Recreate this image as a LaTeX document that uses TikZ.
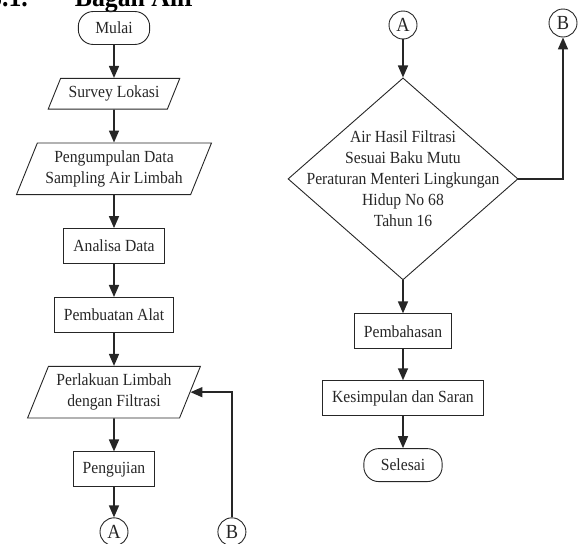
\documentclass[tikz,border=0pt]{standalone}
\usepackage{fontspec}
\setmainfont{Liberation Serif}[FakeStretch=0.92]
\usetikzlibrary{arrows.meta,positioning,shapes.geometric}
\tikzset{%
  >={Triangle[width=10pt,length=12pt]},
  % Specifications for style of nodes:
       base/.style = {draw=black!85, text=black!85, line width=0.9pt,
                      font=\fontsize{17}{21}\selectfont, align=center},
     proses/.style = {base, rectangle, minimum height=35pt, inner xsep=9.5pt},
     dataio/.style = {base, trapezium, trapezium left angle=68,
                      trapezium right angle=112, inner xsep=8pt,
                      inner ysep=7.6pt},
   terminal/.style = {base, rectangle, rounded corners=15pt,
                      minimum height=33pt, inner xsep=17pt},
   decision/.style = {base, diamond, minimum width=230pt,
                      minimum height=202pt, inner sep=0pt},
  connector/.style = {base, circle, minimum size=28pt, inner sep=0pt,
                      font=\fontsize{20}{22}\selectfont},
       flow/.style = {->, draw=black!85, line width=1.6pt}
}

\begin{document}
\begin{tikzpicture}[x=1pt, y=-1pt, node distance=33pt]
  \useasboundingbox (0,0) rectangle (579,544);

  \node (heading) [anchor=base west, inner sep=0pt,
                   font=\fontsize{28}{28}\selectfont\bfseries]
        at (-11,6) {3.1.\hspace{47pt}Bagan Alir};

  % left column
  \node (mulai)     [terminal] at (114,28)        {Mulai};
  \node (survey)    [dataio, below=of mulai]      {Survey Lokasi};
  \node (kumpul)    [dataio, below=of survey]     {Pengumpulan Data\\Sampling Air Limbah};
  \node (analisa)   [proses, below=of kumpul]     {Analisa Data};
  \node (alat)      [proses, below=of analisa]    {Pembuatan Alat};
  \node (perlakuan) [dataio, below=of alat]       {Perlakuan Limbah\\dengan Filtrasi};
  \node (uji)       [proses, below=of perlakuan]  {Pengujian};
  \node (A1)        [connector, below=30pt of uji] {A};
  \node (B1)        [connector, right=89pt of A1] {B};

  % right column
  \node (A2)        [connector] at (403,25)       {A};
  \node (B2)        [connector] at (563,23)       {B};
  \node (cek)       [decision, below=38pt of A2,
                     label={[base, draw=none]center:Air Hasil Filtrasi\\Sesuai Baku Mutu\\Peraturan Menteri Lingkungan\\Hidup No 68\\Tahun 16}] {};
  \node (bahas)     [proses, below=of cek]        {Pembahasan};
  \node (simpul)    [proses, below=31pt of bahas] {Kesimpulan dan Saran};
  \node (selesai)   [terminal, below=32pt of simpul] {Selesai};

  \draw[flow] (mulai) -- (survey);
  \draw[flow] (survey) -- (kumpul);
  \draw[flow] (kumpul) -- (analisa);
  \draw[flow] (analisa) -- (alat);
  \draw[flow] (alat) -- (perlakuan);
  \draw[flow] (perlakuan) -- (uji);
  \draw[flow] (uji) -- (A1);
  \draw[flow] (B1.north) |- (perlakuan.east);

  \draw[flow] (A2) -- (cek);
  \draw[flow] (cek.east) -| (B2.south);
  \draw[flow] (cek) -- (bahas);
  \draw[flow] (bahas) -- (simpul);
  \draw[flow] (simpul) -- (selesai);
\end{tikzpicture}
\end{document}
